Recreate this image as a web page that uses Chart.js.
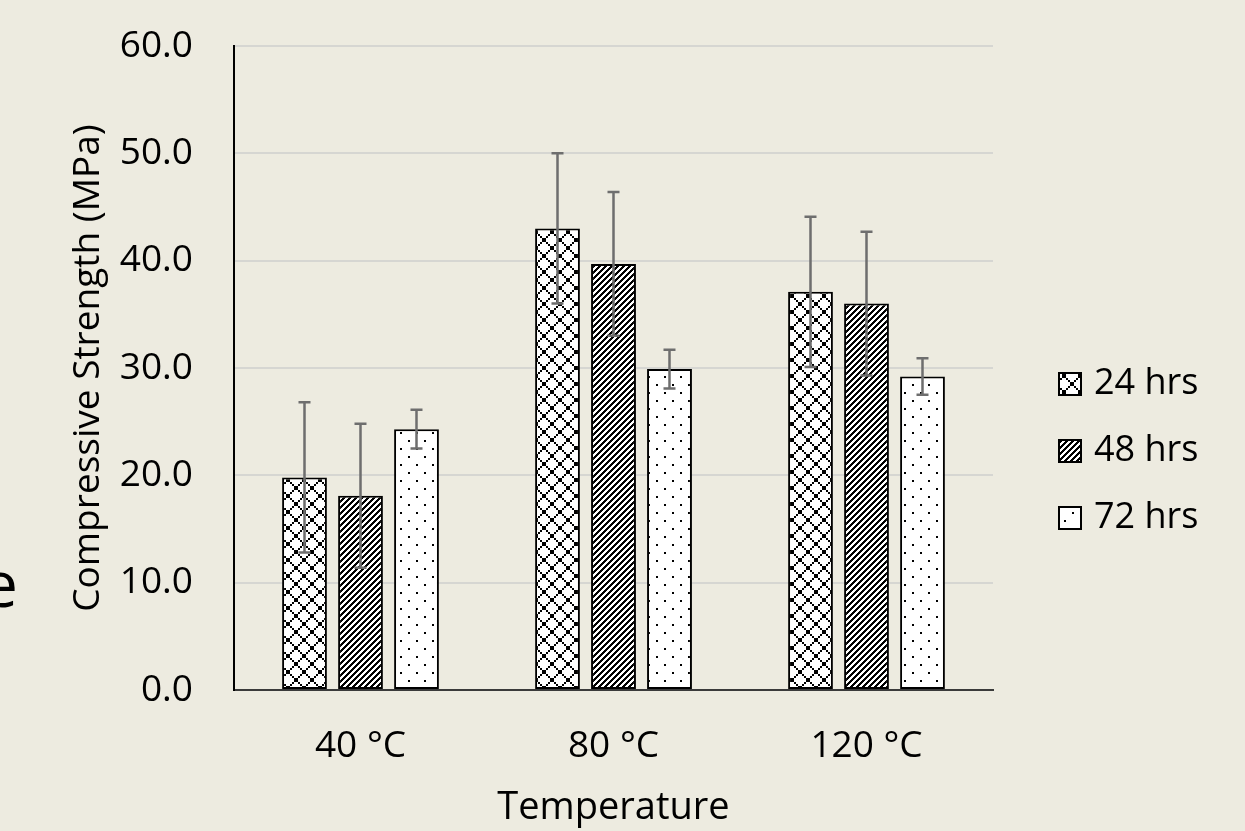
<!DOCTYPE html>
<html><head><meta charset="utf-8">
<script src="https://cdn.jsdelivr.net/npm/chart.js@4.4.1/dist/chart.umd.min.js"></script>
<style>html,body{margin:0;padding:0;background:#EDEBE0;overflow:hidden}#wrap{width:1245px;height:831px;position:relative}</style>
</head><body><div id="wrap"><canvas id="c"></canvas></div>
<script>
const categories = ['40 °C', '80 °C', '120 °C'];
const seriesLabels = ['24 hrs', '48 hrs', '72 hrs'];
const strength24 = [19.8, 43.0, 37.1];
const strength48 = [18.1, 39.7, 36.0];
const strength72 = [24.3, 29.9, 29.2];
const error24 = [7.0, 7.0, 7.0];
const error48 = [6.7, 6.7, 6.7];
const error72 = [1.8, 1.8, 1.7];
const yAxisTitle = 'Compressive Strength (MPa)';
const xAxisTitle = 'Temperature';

const FONT = "'Open Sans'";
Chart.defaults.font.family = FONT;
Chart.defaults.color = '#000';

const canvas = document.getElementById('c');
const cctx = canvas.getContext('2d');

function makePattern(kind) {
  const n = kind === 'stripe' ? 6 : 16;
  const cv = document.createElement('canvas');
  cv.width = n; cv.height = n;
  const g = cv.getContext('2d');
  g.fillStyle = '#fff'; g.fillRect(0, 0, n, n);
  g.fillStyle = '#000';
  for (let y = 0; y < n; y++) for (let x = 0; x < n; x++) {
    let on = false;
    if (kind === 'diamond') { const bx = x >> 1, by = y >> 1; on = ((bx - by + 8) % 8 === 0) || ((bx + by) % 8 === 7); }
    else if (kind === 'stripe') { on = ((x + y) % 6) < 3; }
    else { on = (x < 2 && y < 2) || (x >= 8 && x < 10 && y >= 8 && y < 10); }
    if (on) g.fillRect(x, y, 1, 1);
  }
  return cctx.createPattern(cv, 'repeat');
}
const patterns = [makePattern('diamond'), makePattern('stripe'), makePattern('dots')];

const errorBars = {
  id: 'errorBars',
  afterDatasetsDraw(chart) {
    const ctx = chart.ctx, ys = chart.scales.y;
    ctx.save();
    ctx.strokeStyle = '#6E6E6E'; ctx.lineWidth = 2.5;
    chart.data.datasets.forEach((ds, i) => {
      const meta = chart.getDatasetMeta(i);
      meta.data.forEach((bar, j) => {
        const v = ds.data[j], e = ds.errors[j];
        const t = ys.getPixelForValue(v + e), b = ys.getPixelForValue(v - e);
        const x = bar.x;
        ctx.beginPath();
        ctx.moveTo(x, t); ctx.lineTo(x, b);
        ctx.moveTo(x - 6, t); ctx.lineTo(x + 6, t);
        ctx.moveTo(x - 6, b); ctx.lineTo(x + 6, b);
        ctx.stroke();
      });
    });
    ctx.restore();
  }
};

const customLegend = {
  id: 'customLegend',
  afterDraw(chart) {
    const ctx = chart.ctx;
    ctx.save();
    const ys = [384, 451, 518];
    chart.data.datasets.forEach((ds, i) => {
      const y = ys[i];
      ctx.fillStyle = ds.backgroundColor;
      ctx.fillRect(1058, y - 12, 24, 24);
      ctx.strokeStyle = '#000'; ctx.lineWidth = 2;
      ctx.strokeRect(1059, y - 11, 22, 22);
      ctx.fillStyle = '#000';
      ctx.font = "36px " + FONT;
      ctx.textAlign = 'left'; ctx.textBaseline = 'middle';
      ctx.fillText(ds.label, 1094, y);
    });
    // cropped letter at far left edge
    ctx.font = "64px " + FONT;
    ctx.textAlign = 'right'; ctx.textBaseline = 'alphabetic';
    ctx.fillText('e', 18, 607);
    ctx.restore();
  }
};

new Chart(canvas, {
  type: 'bar',
  data: {
    labels: categories,
    datasets: [
      { label: seriesLabels[0], data: strength24, errors: error24, backgroundColor: patterns[0] },
      { label: seriesLabels[1], data: strength48, errors: error48, backgroundColor: patterns[1] },
      { label: seriesLabels[2], data: strength72, errors: error72, backgroundColor: patterns[2] }
    ].map(d => Object.assign(d, { borderColor: '#000', borderWidth: 2, borderSkipped: false, categoryPercentage: 0.664, barPercentage: 0.80 }))
  },
  options: {
    responsive: true, maintainAspectRatio: false, animation: false,
    layout: { padding: { top: 46, right: 252, left: 0, bottom: 0 } },
    plugins: { legend: { display: false }, tooltip: { enabled: false } },
    scales: {
      x: {
        grid: { display: false, drawTicks: false },
        border: { display: true, color: '#3A3A3A', width: 2 },
        ticks: { font: { size: 37 }, color: '#000', padding: 34 },
        title: { display: true, text: xAxisTitle, font: { size: 38 }, color: '#000', padding: { top: 0, bottom: 0 } },
        afterFit(s) { s.height = 141; }
      },
      y: {
        min: 0, max: 60,
        grid: { color: '#D6D6D2', lineWidth: 2, drawTicks: true, tickLength: 41, tickColor: 'rgba(0,0,0,0)' },
        border: { display: true, color: '#000', width: 2 },
        ticks: { stepSize: 10, font: { size: 37 }, color: '#000', padding: 0, callback: v => Number(v).toFixed(1) },
        title: { display: true, text: yAxisTitle, font: { size: 37 }, color: '#000', padding: { top: 66, bottom: 0 } },
        afterFit(s) { s.width = 234; }
      }
    }
  },
  plugins: [errorBars, customLegend]
});
</script></body></html>
